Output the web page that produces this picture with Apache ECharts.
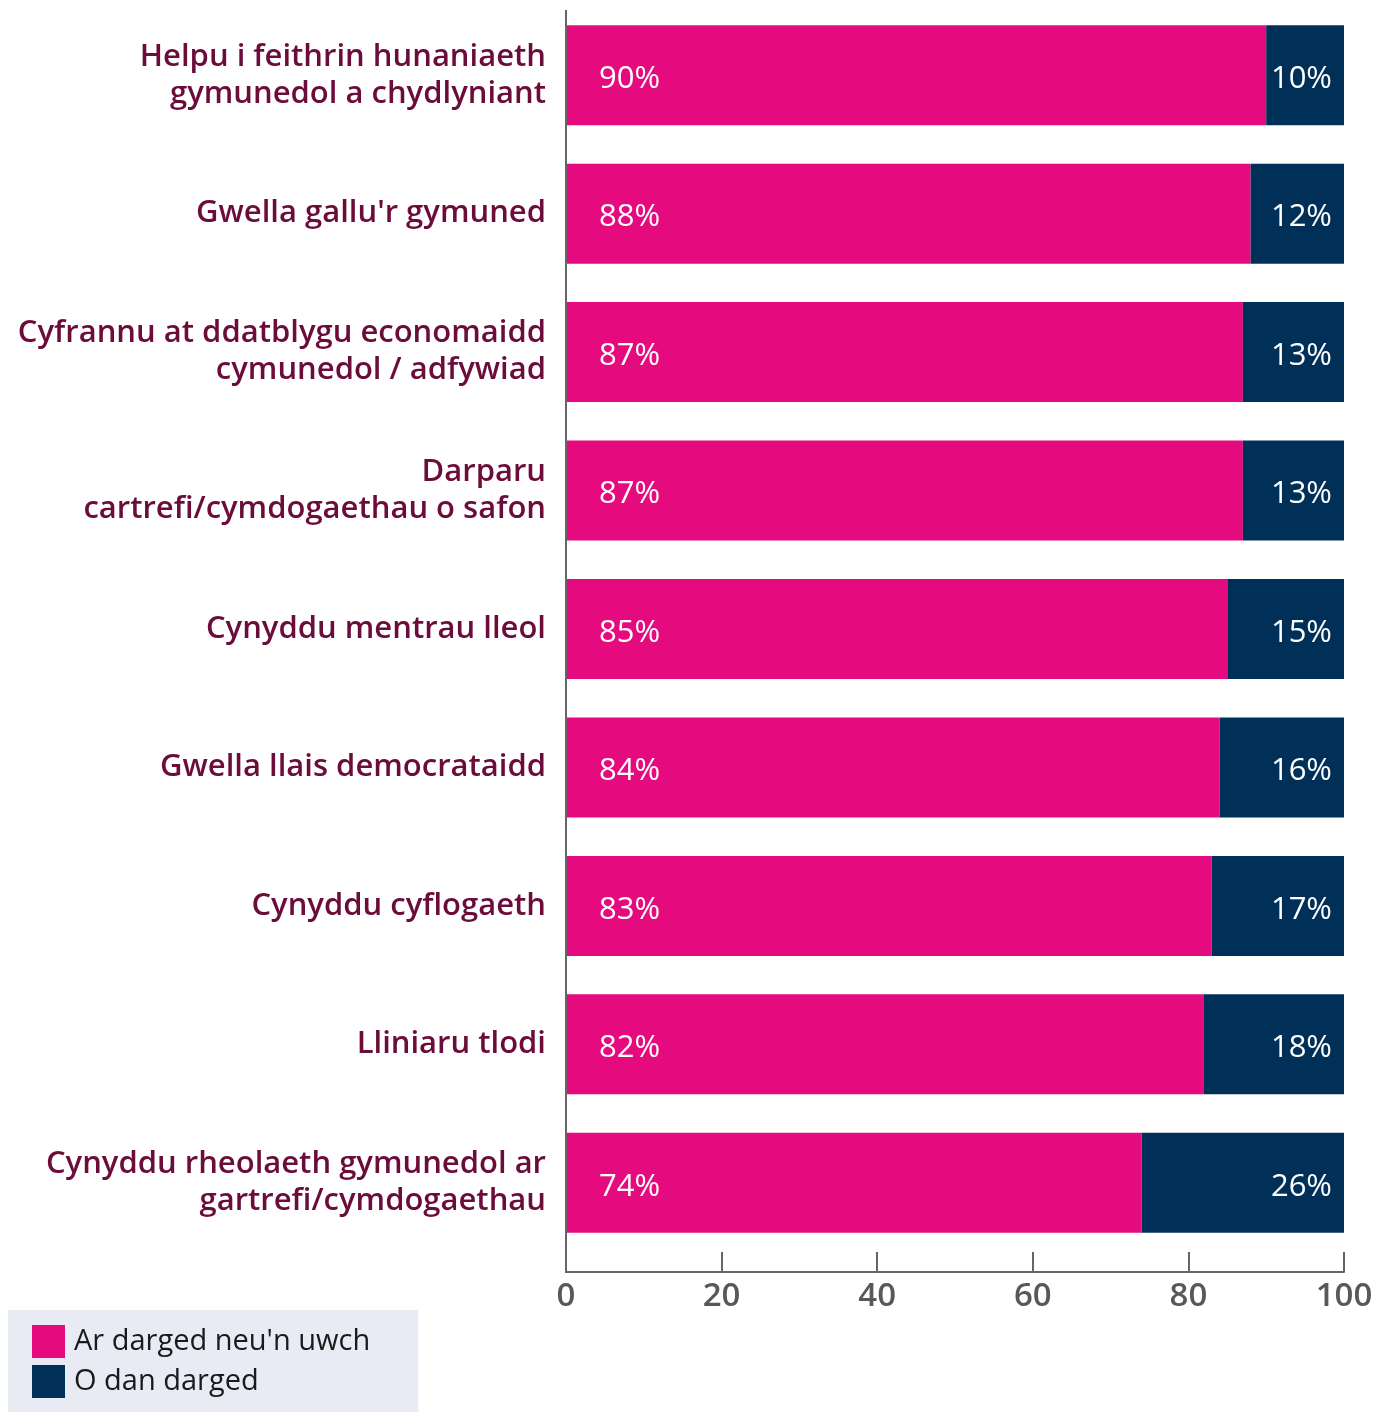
<!DOCTYPE html>
<html>
<head>
<meta charset="utf-8">
<script src="https://cdn.jsdelivr.net/npm/echarts@6/dist/echarts.min.js"></script>
<style>
  html, body { margin: 0; padding: 0; background: #fff; }
  #chart { width: 1388px; height: 1412px; }
</style>
</head>
<body>
<div id="chart"></div>
<script>
// categories, top to bottom
var categories = [
    "Helpu i feithrin hunaniaeth\ngymunedol a chydlyniant",
    "Gwella gallu'r gymuned",
    "Cyfrannu at ddatblygu economaidd\ncymunedol / adfywiad",
    "Darparu\ncartrefi/cymdogaethau o safon",
    "Cynyddu mentrau lleol",
    "Gwella llais democrataidd",
    "Cynyddu cyflogaeth",
    "Lliniaru tlodi",
    "Cynyddu rheolaeth gymunedol ar\ngartrefi/cymdogaethau"
];
var onTarget = [90, 88, 87, 87, 85, 84, 83, 82, 74];   // Ar darged neu'n uwch
var belowTarget = [10, 12, 13, 13, 15, 16, 17, 18, 26]; // O dan darged
var seriesNames = ["Ar darged neu'n uwch", "O dan darged"];
var xTicks = [0, 20, 40, 60, 80, 100];

var colors = ['#e50a7e', '#003057'];
var axisColor = '#666666';
var font = '"Open Sans", "Noto Sans", sans-serif';

var gridTop = 6, gridHeight = 1246, xOffset = 20;

var myChart = echarts.init(document.getElementById('chart'));

var option = {
    animation: false,
    color: colors,
    textStyle: { fontFamily: font },
    grid: {
        left: 566,
        right: 44,
        top: gridTop,
        height: gridHeight,
        containLabel: false
    },
    legend: {
        orient: 'vertical',
        left: 8,
        bottom: 0,
        padding: [15, 48, 14, 24],
        backgroundColor: '#e8eaf4',
        itemWidth: 33,
        itemHeight: 33,
        itemGap: 7,
        icon: 'rect',
        data: seriesNames,
        textStyle: {
            fontFamily: font,
            fontSize: 29,
            color: '#1a1a1a',
            padding: [0, 0, 0, 4]
        }
    },
    xAxis: {
        type: 'value',
        min: xTicks[0],
        max: xTicks[xTicks.length - 1],
        interval: 20,
        offset: xOffset,
        axisLine: { show: true, lineStyle: { color: axisColor, width: 2 } },
        axisTick: { show: true, inside: true, length: 20, lineStyle: { color: axisColor, width: 2 } },
        splitLine: { show: false },
        axisLabel: {
            color: '#585858',
            fontSize: 33,
            fontWeight: 600,
            fontFamily: font,
            margin: 8
        }
    },
    yAxis: {
        type: 'category',
        inverse: true,
        data: categories,
        axisLine: { show: false },
        axisTick: { show: false },
        axisLabel: {
            color: '#6b0c3a',
            fontSize: 31,
            fontWeight: 600,
            fontFamily: font,
            lineHeight: 37,
            margin: 20,
            align: 'right',
            padding: [4, 0, 0, 0]
        }
    },
    series: [
        {
            name: seriesNames[0],
            type: 'bar',
            stack: 'total',
            barWidth: 100,
            data: onTarget,
            label: {
                show: true,
                position: 'insideLeft',
                distance: 33,
                offset: [0, 4],
                color: '#ffffff',
                fontSize: 31,
                fontWeight: 500,
                fontFamily: font,
                formatter: '{c}%'
            }
        },
        {
            name: seriesNames[1],
            type: 'bar',
            stack: 'total',
            barWidth: 100,
            data: belowTarget,
            label: {
                show: true,
                position: 'insideRight',
                distance: 12,
                offset: [0, 4],
                color: '#ffffff',
                fontSize: 31,
                fontWeight: 500,
                fontFamily: font,
                formatter: '{c}%'
            }
        }
    ]
};

myChart.setOption(option);

// y axis line, running from just below the grid top down to the offset x axis
var x0 = myChart.convertToPixel({ xAxisIndex: 0 }, 0);
var gridBottom = gridTop + gridHeight;
myChart.setOption({
    graphic: [{
        type: 'line',
        shape: { x1: x0, y1: gridTop + 4, x2: x0, y2: gridBottom + xOffset + 1 },
        style: { stroke: axisColor, lineWidth: 2 },
        z: 10
    }]
});
</script>
</body>
</html>
